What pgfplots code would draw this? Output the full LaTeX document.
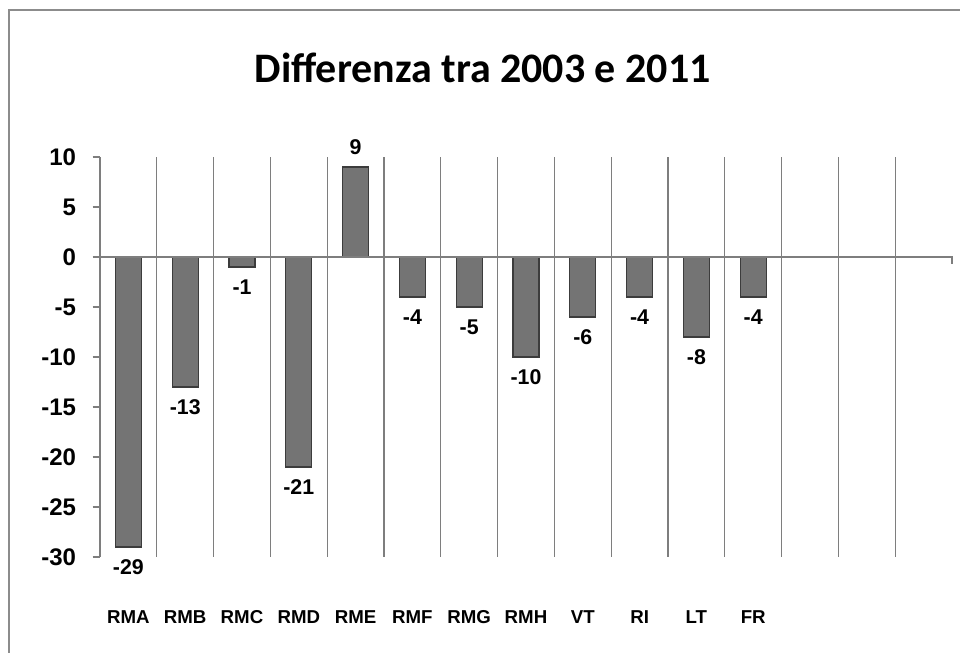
\documentclass[border=0pt]{standalone}
\usepackage{pgfplots}
\pgfplotsset{compat=1.18}
\usepackage{fontspec}
\setmainfont{Liberation Sans}
\newfontfamily\titlefont{Carlito}
\definecolor{barfill}{HTML}{747474}
\definecolor{baredge}{HTML}{3C3C3C}
\definecolor{gridc}{HTML}{7E7E7E}
\definecolor{framec}{HTML}{8C8C8C}
\begin{document}
\begin{tikzpicture}
\path[use as bounding box] (0,0) rectangle (720pt,489.75pt);
\draw[framec, line width=1.5pt] (7pt,0) -- (7pt,482.25pt) -- (720pt,482.25pt);
\node[font=\titlefont\bfseries\fontsize{31.5}{36}\selectfont] at (362pt,438.5pt) {Differenza tra 2003 e 2011};
\begin{axis}[
  at={(75pt,72pt)}, anchor=south west,
  scale only axis, width=639pt, height=300pt,
  xmin=0.5, xmax=15.5, ymin=-30, ymax=10,
  ytick={-30,-25,...,10},
  xtick={1,...,12},
  xticklabels={RMA,RMB,RMC,RMD,RME,RMF,RMG,RMH,VT,RI,LT,FR},
  minor xtick={1.5,2.5,...,14.5},
  xminorgrids=true,
  minor grid style={gridc, line width=0.9pt},
  axis x line*=bottom, x axis line style={draw=none},
  axis y line*=left, y axis line style={gridc, line width=0.9pt},
  x tick style={draw=none}, minor x tick style={draw=none},
  y tick style={gridc, line width=0.9pt},
  tick align=outside, major tick length=5.5pt,
  /pgf/number format/assume math mode=true,
  yticklabel style={font=\bfseries\fontsize{18}{20}\selectfont, xshift=-9pt},
  xticklabel style={font=\bfseries\fontsize{14}{16}\selectfont, yshift=-31pt},
  ybar, bar width=19.5pt,
  nodes near coords,
  every node near coord/.append style={font=\bfseries\fontsize{16}{18}\selectfont, inner xsep=0pt, inner ysep=9pt},
  clip=false,
]
\addplot[fill=barfill, draw=baredge, line width=0.8pt] coordinates {
(1,-29) (2,-13) (3,-1) (4,-21) (5,9) (6,-4) (7,-5) (8,-10) (9,-6) (10,-4) (11,-8) (12,-4)
};
\draw[gridc, line width=0.9pt] (axis cs:0.5,0) -- (axis cs:15.5,0) -- ([yshift=-5pt]axis cs:15.5,0);
\end{axis}
\end{tikzpicture}
\end{document}
